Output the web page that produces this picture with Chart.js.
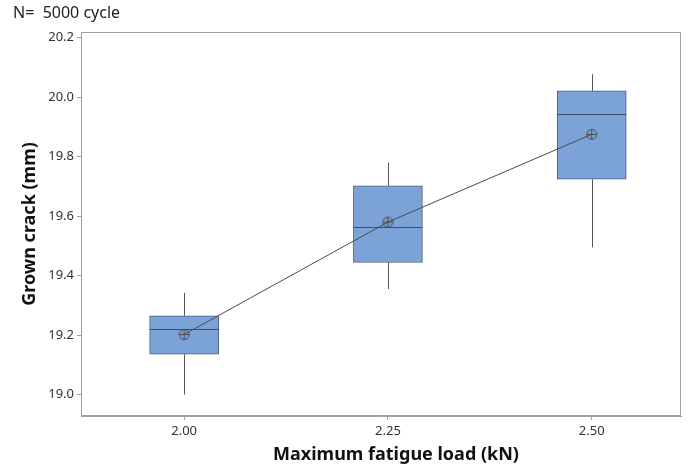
<!DOCTYPE html>
<html>
<head>
<meta charset="utf-8">
<script src="https://cdn.jsdelivr.net/npm/chart.js@4"></script>
<style>
  body { margin: 0; background: #fff; }
</style>
</head>
<body>
<canvas id="crackChart" width="688" height="468"></canvas>
<script>
// Box statistics per load level
const loads = [2.00, 2.25, 2.50];
const q1 = [19.136, 19.444, 19.724];
const q3 = [19.265, 19.702, 20.021];
const medians = [19.222, 19.565, 19.942];
const means = [19.202, 19.580, 19.875];
const whiskerLow = [19.000, 19.355, 19.495];
const whiskerHigh = [19.342, 19.779, 20.077];

const xTitle = 'Maximum fatigue load (kN)';

// Mean marker: circle with a cross inside
function makeMeanMarker() {
    const c = document.createElement('canvas');
    c.width = 13; c.height = 13;
    const g = c.getContext('2d');
    g.strokeStyle = '#4a4a4a';
    g.lineWidth = 1;
    g.beginPath();
    g.arc(6.5, 6.5, 5, 0, Math.PI * 2);
    g.moveTo(6.5, 1.5); g.lineTo(6.5, 11.5);
    g.moveTo(1.5, 6.5); g.lineTo(11.5, 6.5);
    g.stroke();
    return c;
}

// Whiskers and median lines, drawn from the box elements
const boxExtras = {
    id: 'boxExtras',
    afterDatasetsDraw(chart) {
        const ctx = chart.ctx;
        const y = chart.scales.y;
        const bars = chart.getDatasetMeta(0).data;
        ctx.save();
        ctx.lineWidth = 1;
        bars.forEach((bar, i) => {
            const x = Math.round(bar.x) + 0.5;
            const half = bar.width / 2;
            // whiskers
            ctx.strokeStyle = '#555';
            ctx.beginPath();
            ctx.moveTo(x, y.getPixelForValue(whiskerHigh[i]));
            ctx.lineTo(x, y.getPixelForValue(q3[i]));
            ctx.moveTo(x, y.getPixelForValue(q1[i]));
            ctx.lineTo(x, y.getPixelForValue(whiskerLow[i]));
            ctx.stroke();
            // median
            const my = Math.round(y.getPixelForValue(medians[i])) + 0.5;
            ctx.strokeStyle = '#3d4d66';
            ctx.beginPath();
            ctx.moveTo(bar.x - half, my);
            ctx.lineTo(bar.x + half, my);
            ctx.stroke();
        });
        ctx.restore();
    }
};

// Frame around the plotting area, plus the x axis title
const plotFrame = {
    id: 'plotFrame',
    afterDraw(chart) {
        const { left, top, right, bottom } = chart.chartArea;
        const ctx = chart.ctx;
        ctx.save();
        ctx.strokeStyle = '#a0a0a0';
        ctx.lineWidth = 1;
        ctx.strokeRect(Math.round(left) + 0.5, Math.round(top) + 0.5,
            Math.round(right - left) - 1, Math.round(bottom - top) - 1);

        ctx.fillStyle = '#111';
        ctx.font = 'bold 18px "Noto Sans"';
        ctx.textAlign = 'center';
        ctx.textBaseline = 'middle';
        ctx.fillText(xTitle, (left + right) / 2 + 15, chart.height - 13);
        ctx.restore();
    }
};

const ctx = document.getElementById('crackChart').getContext('2d');

new Chart(ctx, {
    type: 'bar',
    data: {
        datasets: [{
            type: 'bar',
            data: loads.map((x, i) => ({ x: x, y: [q1[i], q3[i]] })),
            backgroundColor: '#7ba3d8',
            borderColor: '#4b5d7c',
            borderWidth: 1,
            borderSkipped: false,
            barThickness: 69,
            order: 2
        }, {
            type: 'line',
            data: loads.map((x, i) => ({ x: x, y: means[i] })),
            borderColor: '#4a4a4a',
            borderWidth: 1,
            pointStyle: makeMeanMarker(),
            pointRadius: 6,
            fill: false,
            order: 1
        }]
    },
    options: {
        responsive: false,
        animation: false,
        layout: { padding: { left: 13, right: 1, top: 0, bottom: 0 } },
        plugins: {
            legend: { display: false },
            tooltip: { enabled: false },
            title: {
                display: true,
                text: 'N=  5000 cycle',
                align: 'start',
                color: '#222',
                font: { family: 'Noto Sans', size: 16, weight: 'normal' },
                padding: { top: 4, bottom: 8.8 }
            }
        },
        scales: {
            x: {
                type: 'linear',
                min: 1.8735,
                max: 2.6095,
                offset: false,
                afterFit: (s) => { s.height = 52; },
                border: { color: '#a0a0a0' },
                grid: { offset: false, drawOnChartArea: false, drawTicks: true, tickLength: 4, color: '#a0a0a0' },
                ticks: {
                    stepSize: 0.25,
                    includeBounds: false,
                    padding: 3,
                    color: '#333',
                    font: { family: 'Noto Sans', size: 13 },
                    callback: (v) => v.toFixed(2)
                }
            },
            y: {
                min: 18.928,
                max: 20.219,
                afterFit: (s) => { s.width = 68; },
                border: { color: '#a0a0a0' },
                grid: { drawOnChartArea: false, drawTicks: true, tickLength: 4, color: '#a0a0a0' },
                ticks: {
                    stepSize: 0.2,
                    includeBounds: false,
                    padding: 3,
                    color: '#333',
                    font: { family: 'Noto Sans', size: 13 },
                    callback: (v) => v.toFixed(1)
                },
                title: {
                    display: true,
                    text: 'Grown crack (mm)',
                    color: '#111',
                    font: { family: 'Noto Sans', size: 18, weight: 'bold' },
                    padding: { top: 6, bottom: 0 }
                }
            }
        }
    },
    plugins: [boxExtras, plotFrame]
});
</script>
</body>
</html>
